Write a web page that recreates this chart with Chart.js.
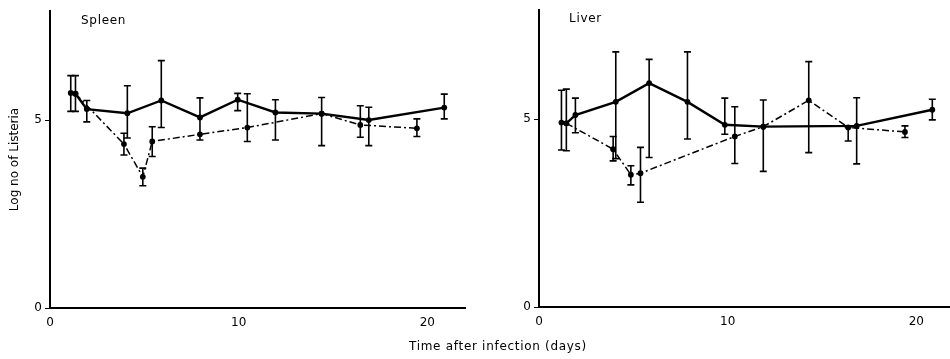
<!DOCTYPE html>
<html>
<head>
<meta charset="utf-8">
<script src="https://cdn.jsdelivr.net/npm/chart.js@4/dist/chart.umd.min.js"></script>
<style>
  html, body { margin: 0; padding: 0; background: #fff; overflow: hidden; width: 950px; height: 359px; }
  canvas { position: absolute; top: 0; }
  #spleen { left: 0; }
  #liver { left: 490px; }
  .lbl { position: absolute; font-family: "DejaVu Sans", sans-serif; font-size: 12px; letter-spacing: 0.7px; color: #000; white-space: nowrap; }
  #spleenName { left: 81px; top: 13px; }
  #liverName { left: 569px; top: 11px; }
  #xTitle { left: 0; width: 996px; text-align: center; top: 339px; }
</style>
</head>
<body>
<canvas id="spleen" width="475" height="359"></canvas>
<canvas id="liver" width="470" height="359"></canvas>
<div class="lbl" id="spleenName">Spleen</div>
<div class="lbl" id="liverName">Liver</div>
<div class="lbl" id="xTitle">Time after infection (days)</div>
<script>
// Axis ticks
const dayTicks = [0, 10, 20];
const logTicks = [0, 5];

// Spleen, solid curve: day, log count, lower / upper bar ends
const spleenSolidDays = [1.1, 1.35, 1.95, 4.1, 5.9, 7.95, 9.95, 11.95, 14.4, 16.9, 20.9];
const spleenSolidLog  = [5.72, 5.70, 5.29, 5.18, 5.52, 5.07, 5.54, 5.20, 5.17, 5.00, 5.33];
const spleenSolidLow  = [5.23, 5.23, 4.95, 4.52, 4.80, 4.47, 5.25, 4.47, 4.32, 4.32, 5.03];
const spleenSolidHigh = [6.18, 6.18, 5.52, 5.91, 6.58, 5.59, 5.71, 5.54, 5.60, 5.34, 5.69];

// Spleen, dash-dot curve
const spleenDashDays = [1.35, 3.92, 4.92, 5.42, 7.95, 10.46, 14.4, 16.45, 19.45];
const spleenDashLog  = [5.70, 4.36, 3.49, 4.43, 4.62, 4.80, 5.17, 4.87, 4.78];
const spleenDashLow  = [null, 4.07, 3.25, 4.03, null, 4.43, null, 4.54, 4.56];
const spleenDashHigh = [null, 4.65, 3.72, 4.82, null, 5.70, null, 5.38, 5.03];

// Liver, solid curve
const liverSolidDays = [1.19, 1.45, 1.93, 4.07, 5.84, 7.87, 9.85, 11.89, 16.84, 20.85];
const liverSolidLog  = [4.91, 4.89, 5.11, 5.46, 5.96, 5.46, 4.85, 4.80, 4.82, 5.25];
const liverSolidLow  = [4.18, 4.16, 4.64, 3.95, 3.98, 4.47, 4.60, 3.61, 3.81, 4.98];
const liverSolidHigh = [5.77, 5.80, 5.56, 6.79, 6.59, 6.79, 5.56, 5.51, 5.57, 5.53];

// Liver, dash-dot curve
const liverDashDays = [1.45, 3.93, 4.87, 5.38, 10.38, 11.89, 14.3, 16.39, 19.4];
const liverDashLog  = [4.89, 4.20, 3.52, 3.56, 4.54, 4.80, 5.50, 4.78, 4.66];
const liverDashLow  = [null, 3.89, 3.25, 2.79, 3.82, null, 4.11, 4.42, 4.51];
const liverDashHigh = [null, 4.54, 3.76, 4.25, 5.33, null, 6.53, 4.78, 4.82];

const INK = '#000';
const FONT = { family: '"DejaVu Sans", sans-serif', size: 12 };

// Vertical range bars with end caps, placed through the chart's scales
const errorBars = {
  id: 'errorBars',
  afterDatasetsDraw(chart) {
    const ctx = chart.ctx;
    const ys = chart.scales.y;
    chart.data.datasets.forEach((ds, i) => {
      const meta = chart.getDatasetMeta(i);
      ctx.save();
      ctx.strokeStyle = INK;
      ctx.lineWidth = 1.6;
      meta.data.forEach((pt, j) => {
        const lo = ds.low[j], hi = ds.high[j];
        if (lo == null || hi == null) return;
        const x = pt.x;
        const y1 = ys.getPixelForValue(hi);
        const y2 = ys.getPixelForValue(lo);
        ctx.beginPath();
        ctx.moveTo(x, y1); ctx.lineTo(x, y2);
        ctx.moveTo(x - 3.5, y1); ctx.lineTo(x + 3.5, y1);
        ctx.moveTo(x - 3.5, y2); ctx.lineTo(x + 3.5, y2);
        ctx.stroke();
      });
      ctx.restore();
    });
  }
};

function series(days, vals, low, high, dashed) {
  return {
    data: days.map((d, i) => ({ x: d, y: vals[i] })),
    low, high,
    showLine: true,
    borderColor: INK,
    backgroundColor: INK,
    borderWidth: dashed ? 1.5 : 2.4,
    borderDash: dashed ? [7, 3, 2, 3] : [],
    pointRadius: 2.9,
    pointBorderWidth: 0,
    pointBackgroundColor: INK,
    tension: 0,
    clip: false
  };
}

function makePanel(id, solid, dash, o) {
  return new Chart(document.getElementById(id), {
    type: 'scatter',
    data: { datasets: [series(...solid, false), series(...dash, true)] },
    plugins: [errorBars],
    options: {
      responsive: false,
      animation: false,
      layout: { padding: { top: o.top, right: o.right, left: 0, bottom: 0 } },
      plugins: { legend: { display: false }, tooltip: { enabled: false } },
      scales: {
        x: {
          type: 'linear', min: 0, max: 22,
          afterBuildTicks: s => { s.ticks = dayTicks.map(v => ({ value: v })); },
          afterFit: s => { s.height = o.xHeight; },
          grid: { display: true, drawOnChartArea: false, drawTicks: false },
          border: { display: true, color: INK, width: 2 },
          ticks: { color: INK, font: FONT, padding: 8, maxRotation: 0 }
        },
        y: {
          type: 'linear', min: 0, max: 7.9,
          afterBuildTicks: s => { s.ticks = logTicks.map(v => ({ value: v })); },
          afterFit: s => { s.width = o.yWidth; },
          grid: { display: true, drawOnChartArea: false, drawTicks: true, tickLength: 5, color: INK, tickWidth: 1 },
          border: { display: true, color: INK, width: 2 },
          ticks: { color: INK, font: FONT, padding: 3 },
          title: {
            display: !!o.yTitle, text: o.yTitle || '', color: INK, font: FONT,
            padding: { top: 8, bottom: 0 }
          }
        }
      }
    }
  });
}

makePanel('spleen',
  [spleenSolidDays, spleenSolidLog, spleenSolidLow, spleenSolidHigh],
  [spleenDashDays, spleenDashLog, spleenDashLow, spleenDashHigh],
  { top: 11, right: 10, xHeight: 51, yWidth: 50, yTitle: 'Log no of Listeria' });

makePanel('liver',
  [liverSolidDays, liverSolidLog, liverSolidLow, liverSolidHigh],
  [liverDashDays, liverDashLog, liverDashLow, liverDashHigh],
  { top: 9, right: 6, xHeight: 52, yWidth: 49 });
</script>
</body>
</html>
